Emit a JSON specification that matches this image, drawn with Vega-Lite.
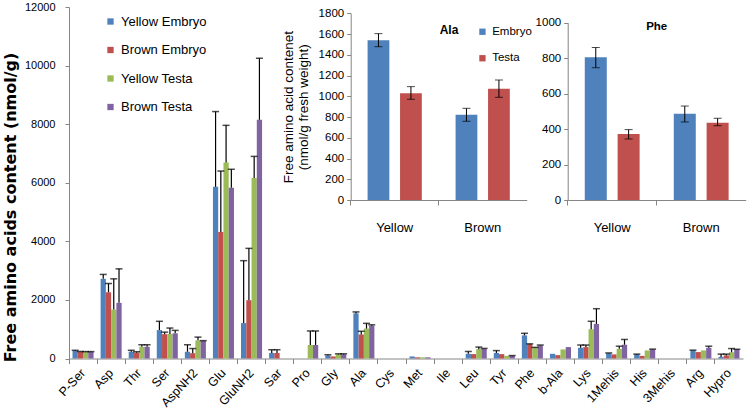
{
  "$schema": "https://vega.github.io/schema/vega-lite/v6.json",
  "width": 674,
  "height": 351.5,
  "autosize": {"type": "none"},
  "padding": {"left": 69, "top": 7, "right": 4, "bottom": 57.5},
  "background": "white",
  "config": {
    "view": {"stroke": null},
    "font": "Liberation Sans",
    "axis": {"grid": false, "domainColor": "#868686", "tickColor": "#868686", "labelColor": "#000000", "titleColor": "#000000", "labelFont": "Liberation Sans", "titleFont": "Liberation Sans", "labelOverlap": false},
    "legend": {"labelFont": "Liberation Sans", "labelColor": "#000000"}
  },
  "layer": [
    {
      "data": {"values": [
        {"aa": "P-Ser", "g": "Yellow Embryo", "v": 260, "hi": 280},
        {"aa": "P-Ser", "g": "Brown Embryo", "v": 230, "hi": 240},
        {"aa": "P-Ser", "g": "Yellow Testa", "v": 225, "hi": 235},
        {"aa": "P-Ser", "g": "Brown Testa", "v": 225, "hi": 235},
        {"aa": "Asp", "g": "Yellow Embryo", "v": 2720, "hi": 2870},
        {"aa": "Asp", "g": "Brown Embryo", "v": 2260, "hi": 2560},
        {"aa": "Asp", "g": "Yellow Testa", "v": 1670, "hi": 2720},
        {"aa": "Asp", "g": "Brown Testa", "v": 1900, "hi": 3060},
        {"aa": "Thr", "g": "Yellow Embryo", "v": 230, "hi": 280},
        {"aa": "Thr", "g": "Brown Embryo", "v": 200, "hi": 230},
        {"aa": "Thr", "g": "Yellow Testa", "v": 400, "hi": 470},
        {"aa": "Thr", "g": "Brown Testa", "v": 400, "hi": 470},
        {"aa": "Ser", "g": "Yellow Embryo", "v": 970, "hi": 1270},
        {"aa": "Ser", "g": "Brown Embryo", "v": 830, "hi": 900},
        {"aa": "Ser", "g": "Yellow Testa", "v": 840, "hi": 1040},
        {"aa": "Ser", "g": "Brown Testa", "v": 860, "hi": 960},
        {"aa": "AspNH2", "g": "Yellow Embryo", "v": 230, "hi": 470},
        {"aa": "AspNH2", "g": "Brown Embryo", "v": 180, "hi": 340},
        {"aa": "AspNH2", "g": "Yellow Testa", "v": 620, "hi": 730},
        {"aa": "AspNH2", "g": "Brown Testa", "v": 600, "hi": 610},
        {"aa": "Glu", "g": "Yellow Embryo", "v": 5860, "hi": 8430},
        {"aa": "Glu", "g": "Brown Embryo", "v": 4320, "hi": 6400},
        {"aa": "Glu", "g": "Yellow Testa", "v": 6690, "hi": 7960},
        {"aa": "Glu", "g": "Brown Testa", "v": 5830, "hi": 6460},
        {"aa": "GluNH2", "g": "Yellow Embryo", "v": 1210, "hi": 3340},
        {"aa": "GluNH2", "g": "Brown Embryo", "v": 1990, "hi": 3760},
        {"aa": "GluNH2", "g": "Yellow Testa", "v": 6160, "hi": 6900},
        {"aa": "GluNH2", "g": "Brown Testa", "v": 8150, "hi": 10250},
        {"aa": "Sar", "g": "Yellow Embryo", "v": 190, "hi": 300},
        {"aa": "Sar", "g": "Brown Embryo", "v": 190, "hi": 300},
        {"aa": "Pro", "g": "Yellow Testa", "v": 460, "hi": 940},
        {"aa": "Pro", "g": "Brown Testa", "v": 460, "hi": 940},
        {"aa": "Gly", "g": "Yellow Embryo", "v": 100, "hi": 130},
        {"aa": "Gly", "g": "Brown Embryo", "v": 70},
        {"aa": "Gly", "g": "Yellow Testa", "v": 140, "hi": 160},
        {"aa": "Gly", "g": "Brown Testa", "v": 140, "hi": 160},
        {"aa": "Ala", "g": "Yellow Embryo", "v": 1540, "hi": 1590},
        {"aa": "Ala", "g": "Brown Embryo", "v": 820, "hi": 930},
        {"aa": "Ala", "g": "Yellow Testa", "v": 1020, "hi": 1200},
        {"aa": "Ala", "g": "Brown Testa", "v": 1120, "hi": 1150},
        {"aa": "Met", "g": "Yellow Embryo", "v": 70},
        {"aa": "Met", "g": "Brown Embryo", "v": 40},
        {"aa": "Met", "g": "Yellow Testa", "v": 40},
        {"aa": "Met", "g": "Brown Testa", "v": 40},
        {"aa": "Leu", "g": "Yellow Embryo", "v": 160, "hi": 240},
        {"aa": "Leu", "g": "Brown Embryo", "v": 150},
        {"aa": "Leu", "g": "Yellow Testa", "v": 320, "hi": 390},
        {"aa": "Leu", "g": "Brown Testa", "v": 330, "hi": 345},
        {"aa": "Tyr", "g": "Yellow Embryo", "v": 190, "hi": 270},
        {"aa": "Tyr", "g": "Brown Embryo", "v": 150},
        {"aa": "Tyr", "g": "Yellow Testa", "v": 90},
        {"aa": "Tyr", "g": "Brown Testa", "v": 95, "hi": 100},
        {"aa": "Phe", "g": "Yellow Embryo", "v": 790, "hi": 860},
        {"aa": "Phe", "g": "Brown Embryo", "v": 490, "hi": 500},
        {"aa": "Phe", "g": "Yellow Testa", "v": 375, "hi": 380},
        {"aa": "Phe", "g": "Brown Testa", "v": 440, "hi": 460},
        {"aa": "b-Ala", "g": "Yellow Embryo", "v": 160},
        {"aa": "b-Ala", "g": "Brown Embryo", "v": 115},
        {"aa": "b-Ala", "g": "Yellow Testa", "v": 310},
        {"aa": "b-Ala", "g": "Brown Testa", "v": 390},
        {"aa": "Lys", "g": "Yellow Embryo", "v": 365, "hi": 460},
        {"aa": "Lys", "g": "Brown Embryo", "v": 390, "hi": 460},
        {"aa": "Lys", "g": "Yellow Testa", "v": 1000, "hi": 1270},
        {"aa": "Lys", "g": "Brown Testa", "v": 1180, "hi": 1700},
        {"aa": "1Mehis", "g": "Yellow Embryo", "v": 180, "hi": 190},
        {"aa": "1Mehis", "g": "Brown Embryo", "v": 140},
        {"aa": "1Mehis", "g": "Yellow Testa", "v": 330, "hi": 420},
        {"aa": "1Mehis", "g": "Brown Testa", "v": 470, "hi": 650},
        {"aa": "His", "g": "Yellow Embryo", "v": 140, "hi": 150},
        {"aa": "His", "g": "Brown Embryo", "v": 90},
        {"aa": "His", "g": "Yellow Testa", "v": 275},
        {"aa": "His", "g": "Brown Testa", "v": 310, "hi": 320},
        {"aa": "Arg", "g": "Yellow Embryo", "v": 275, "hi": 285},
        {"aa": "Arg", "g": "Brown Embryo", "v": 220},
        {"aa": "Arg", "g": "Yellow Testa", "v": 275},
        {"aa": "Arg", "g": "Brown Testa", "v": 365, "hi": 420},
        {"aa": "Hypro", "g": "Yellow Embryo", "v": 55, "hi": 150},
        {"aa": "Hypro", "g": "Brown Embryo", "v": 105, "hi": 150},
        {"aa": "Hypro", "g": "Yellow Testa", "v": 215, "hi": 340},
        {"aa": "Hypro", "g": "Brown Testa", "v": 310, "hi": 315}
      ]},
      "encoding": {
        "x": {
          "field": "aa", "type": "nominal", "title": null,
          "scale": {"domain": ["P-Ser", "Asp", "Thr", "Ser", "AspNH2", "Glu", "GluNH2", "Sar", "Pro", "Gly", "Ala", "Cys", "Met", "Ile", "Leu", "Tyr", "Phe", "b-Ala", "Lys", "1Mehis", "His", "3Mehis", "Arg", "Hypro"], "paddingInner": 0, "paddingOuter": 0},
          "axis": {"orient": "bottom", "bandPosition": 0, "tickSize": 5, "labelAngle": -47, "labelAlign": "right", "labelBaseline": "middle", "labelPadding": 7, "labelFontSize": 12.5, "labelOverlap": false}
        },
        "xOffset": {"field": "g", "type": "nominal", "scale": {"domain": ["Yellow Embryo", "Brown Embryo", "Yellow Testa", "Brown Testa"], "paddingInner": 0, "paddingOuter": 0.67}}
      },
      "layer": [
        {
          "mark": {"type": "bar"},
          "encoding": {
            "y": {"field": "v", "type": "quantitative", "title": "Free amino acids content (nmol/g)",
              "scale": {"domain": [0, 12000]},
              "axis": {"orient": "left", "values": [0, 2000, 4000, 6000, 8000, 10000, 12000], "format": "d", "tickSize": 4, "labelPadding": 10, "labelFontSize": 11, "labelOverlap": false, "titleFont": "DejaVu Sans", "titleFontWeight": "bold", "titleFontSize": 16, "titlePadding": 6, "titleY": 200, "titleColor": "#000000"}},
            "color": {"field": "g", "type": "nominal",
              "scale": {"domain": ["Yellow Embryo", "Brown Embryo", "Yellow Testa", "Brown Testa"], "range": ["#4F81BD", "#C0504D", "#9BBB59", "#8064A2"]},
              "legend": {"orient": "none", "legendX": 35, "legendY": 8, "title": null, "symbolType": "square", "symbolSize": 40, "symbolStrokeWidth": 0, "labelFontSize": 13, "rowPadding": 14.5, "labelOffset": 4, "padding": 0}}
          }
        },
        {
          "transform": [{"filter": "datum.hi != null"}],
          "mark": {"type": "rule", "color": "#000000", "strokeWidth": 1.2},
          "encoding": {
            "y": {"field": "v", "type": "quantitative", "title": "Free amino acids content (nmol/g)",
              "axis": {"orient": "left", "values": [0, 2000, 4000, 6000, 8000, 10000, 12000], "format": "d", "tickSize": 4, "labelPadding": 10, "labelFontSize": 11, "labelOverlap": false, "titleFont": "DejaVu Sans", "titleFontWeight": "bold", "titleFontSize": 16, "titlePadding": 6, "titleY": 200, "titleColor": "#000000"}},
            "y2": {"field": "hi"}
          }
        },
        {
          "transform": [{"filter": "datum.hi != null"}],
          "mark": {"type": "tick", "color": "#000000", "thickness": 1.5, "size": 7},
          "encoding": {
            "y": {"field": "hi", "type": "quantitative", "title": "Free amino acids content (nmol/g)",
              "axis": {"orient": "left", "values": [0, 2000, 4000, 6000, 8000, 10000, 12000], "format": "d", "tickSize": 4, "labelPadding": 10, "labelFontSize": 11, "labelOverlap": false, "titleFont": "DejaVu Sans", "titleFontWeight": "bold", "titleFontSize": 16, "titlePadding": 6, "titleY": 200, "titleColor": "#000000"}}
          }
        }
      ]
    },
    {
      "data": {"values": [
        {"c": "Yellow", "p": "Embryo", "v": 1540, "lo": 1478, "hi": 1604},
        {"c": "Yellow", "p": "Testa", "v": 1029, "lo": 971, "hi": 1093},
        {"c": "Brown", "p": "Embryo", "v": 823, "lo": 759, "hi": 884},
        {"c": "Brown", "p": "Testa", "v": 1073, "lo": 990, "hi": 1157}
      ]},
      "layer": [
        {
          "mark": {"type": "bar"},
          "encoding": {
            "x": {"field": "c", "type": "nominal", "title": null,
              "scale": {"domain": ["Yellow", "Brown"], "range": [281.7, 457.7], "paddingInner": 0, "paddingOuter": 0},
              "axis": {"orient": "bottom", "offset": -158.5, "bandPosition": 0, "tickSize": 5, "labelAngle": 0, "labelAlign": "center", "labelBaseline": "top", "labelPadding": 16, "labelFontSize": 13}},
            "xOffset": {"field": "p", "type": "nominal", "scale": {"domain": ["Embryo", "Testa"], "paddingInner": 0.33, "paddingOuter": 0.52}},
            "y": {"field": "v", "type": "quantitative", "title": ["Free amino acid contenet", "(nmol/g fresh weight)"],
              "scale": {"domain": [0, 1800], "range": [193, 6.3]},
              "axis": {"orient": "left", "offset": -281.7, "values": [0, 200, 400, 600, 800, 1000, 1200, 1400, 1600, 1800], "format": "d", "tickSize": 4, "labelPadding": 3, "labelFontSize": 11.5, "labelOverlap": false, "titleFontSize": 13.5, "titleFontWeight": "normal", "titleColor": "#000000", "titlePadding": 8, "titleLineHeight": 15}},
            "color": {"field": "p", "type": "nominal",
              "scale": {"domain": ["Embryo", "Testa"], "range": ["#4F81BD", "#C0504D"]},
              "legend": {"orient": "none", "legendX": 407.7, "legendY": 19, "title": null, "symbolType": "square", "symbolSize": 40, "symbolStrokeWidth": 0, "labelFontSize": 11.5, "rowPadding": 13.5, "labelOffset": 4, "padding": 0}}
          }
        },
        {
          "mark": {"type": "rule", "color": "#000000", "strokeWidth": 1},
          "encoding": {
            "x": {"field": "c", "type": "nominal"},
            "xOffset": {"field": "p", "type": "nominal"},
            "y": {"field": "lo", "type": "quantitative", "title": ["Free amino acid contenet", "(nmol/g fresh weight)"],
              "axis": {"orient": "left", "offset": -281.7, "values": [0, 200, 400, 600, 800, 1000, 1200, 1400, 1600, 1800], "format": "d", "tickSize": 4, "labelPadding": 3, "labelFontSize": 11.5, "labelOverlap": false, "titleFontSize": 13.5, "titleFontWeight": "normal", "titleColor": "#000000", "titlePadding": 8, "titleLineHeight": 15}},
            "y2": {"field": "hi"}
          }
        },
        {
          "mark": {"type": "tick", "color": "#000000", "thickness": 1, "size": 8},
          "encoding": {
            "x": {"field": "c", "type": "nominal"},
            "xOffset": {"field": "p", "type": "nominal"},
            "y": {"field": "lo", "type": "quantitative", "title": ["Free amino acid contenet", "(nmol/g fresh weight)"],
              "axis": {"orient": "left", "offset": -281.7, "values": [0, 200, 400, 600, 800, 1000, 1200, 1400, 1600, 1800], "format": "d", "tickSize": 4, "labelPadding": 3, "labelFontSize": 11.5, "labelOverlap": false, "titleFontSize": 13.5, "titleFontWeight": "normal", "titleColor": "#000000", "titlePadding": 8, "titleLineHeight": 15}}
          }
        },
        {
          "mark": {"type": "tick", "color": "#000000", "thickness": 1, "size": 8},
          "encoding": {
            "x": {"field": "c", "type": "nominal"},
            "xOffset": {"field": "p", "type": "nominal"},
            "y": {"field": "hi", "type": "quantitative", "title": ["Free amino acid contenet", "(nmol/g fresh weight)"],
              "axis": {"orient": "left", "offset": -281.7, "values": [0, 200, 400, 600, 800, 1000, 1200, 1400, 1600, 1800], "format": "d", "tickSize": 4, "labelPadding": 3, "labelFontSize": 11.5, "labelOverlap": false, "titleFontSize": 13.5, "titleFontWeight": "normal", "titleColor": "#000000", "titlePadding": 8, "titleLineHeight": 15}}
          }
        },
        {
          "data": {"values": [{"label": "Ala"}]},
          "mark": {"type": "text", "align": "left", "baseline": "middle", "fontWeight": "bold", "fontSize": 12, "dx": 1},
          "encoding": {
            "x": {"datum": "Brown", "bandPosition": 0},
            "y": {"datum": 1640, "title": ["Free amino acid contenet", "(nmol/g fresh weight)"],
              "axis": {"orient": "left", "offset": -281.7, "values": [0, 200, 400, 600, 800, 1000, 1200, 1400, 1600, 1800], "format": "d", "tickSize": 4, "labelPadding": 3, "labelFontSize": 11.5, "labelOverlap": false, "titleFontSize": 13.5, "titleFontWeight": "normal", "titleColor": "#000000", "titlePadding": 8, "titleLineHeight": 15}},
            "text": {"field": "label"}
          }
        }
      ]
    },
    {
      "data": {"values": [
        {"c": "Yellow", "p": "Embryo", "v": 805, "lo": 746, "hi": 860},
        {"c": "Yellow", "p": "Testa", "v": 372, "lo": 344, "hi": 397},
        {"c": "Brown", "p": "Embryo", "v": 487, "lo": 440, "hi": 530},
        {"c": "Brown", "p": "Testa", "v": 436, "lo": 419, "hi": 461}
      ]},
      "layer": [
        {
          "mark": {"type": "bar"},
          "encoding": {
            "x": {"field": "c", "type": "nominal", "title": null,
              "scale": {"domain": ["Yellow", "Brown"], "range": [498.7, 676.7], "paddingInner": 0, "paddingOuter": 0},
              "axis": {"orient": "bottom", "offset": -158.5, "bandPosition": 0, "tickSize": 5, "labelAngle": 0, "labelAlign": "center", "labelBaseline": "top", "labelPadding": 16, "labelFontSize": 13}},
            "xOffset": {"field": "p", "type": "nominal", "scale": {"domain": ["Embryo", "Testa"], "paddingInner": 0.33, "paddingOuter": 0.52}},
            "y": {"field": "v", "type": "quantitative", "title": null,
              "scale": {"domain": [0, 1000], "range": [193, 15.7]},
              "axis": {"orient": "left", "offset": -498.7, "values": [0, 200, 400, 600, 800, 1000], "format": "d", "tickSize": 4, "labelPadding": 3, "labelFontSize": 11.5, "labelOverlap": false}},
            "color": {"field": "p", "type": "nominal",
              "scale": {"domain": ["Embryo", "Testa"], "range": ["#4F81BD", "#C0504D"]},
              "legend": null}
          }
        },
        {
          "mark": {"type": "rule", "color": "#000000", "strokeWidth": 1},
          "encoding": {
            "x": {"field": "c", "type": "nominal"},
            "xOffset": {"field": "p", "type": "nominal"},
            "y": {"field": "lo", "type": "quantitative", "title": null,
              "axis": {"orient": "left", "offset": -498.7, "values": [0, 200, 400, 600, 800, 1000], "format": "d", "tickSize": 4, "labelPadding": 3, "labelFontSize": 11.5, "labelOverlap": false}},
            "y2": {"field": "hi"}
          }
        },
        {
          "mark": {"type": "tick", "color": "#000000", "thickness": 1, "size": 8},
          "encoding": {
            "x": {"field": "c", "type": "nominal"},
            "xOffset": {"field": "p", "type": "nominal"},
            "y": {"field": "lo", "type": "quantitative", "title": null,
              "axis": {"orient": "left", "offset": -498.7, "values": [0, 200, 400, 600, 800, 1000], "format": "d", "tickSize": 4, "labelPadding": 3, "labelFontSize": 11.5, "labelOverlap": false}}
          }
        },
        {
          "mark": {"type": "tick", "color": "#000000", "thickness": 1, "size": 8},
          "encoding": {
            "x": {"field": "c", "type": "nominal"},
            "xOffset": {"field": "p", "type": "nominal"},
            "y": {"field": "hi", "type": "quantitative", "title": null,
              "axis": {"orient": "left", "offset": -498.7, "values": [0, 200, 400, 600, 800, 1000], "format": "d", "tickSize": 4, "labelPadding": 3, "labelFontSize": 11.5, "labelOverlap": false}}
          }
        },
        {
          "data": {"values": [{"label": "Phe"}]},
          "mark": {"type": "text", "align": "center", "baseline": "middle", "fontWeight": "bold", "fontSize": 11.5},
          "encoding": {
            "x": {"datum": "Brown", "bandPosition": 0},
            "y": {"datum": 975, "title": null,
              "axis": {"orient": "left", "offset": -498.7, "values": [0, 200, 400, 600, 800, 1000], "format": "d", "tickSize": 4, "labelPadding": 3, "labelFontSize": 11.5, "labelOverlap": false}},
            "text": {"field": "label"}
          }
        }
      ]
    }
  ],
  "resolve": {
    "scale": {"x": "independent", "y": "independent", "xOffset": "independent", "color": "independent"},
    "axis": {"x": "independent", "y": "independent"},
    "legend": {"color": "independent"}
  }
}
